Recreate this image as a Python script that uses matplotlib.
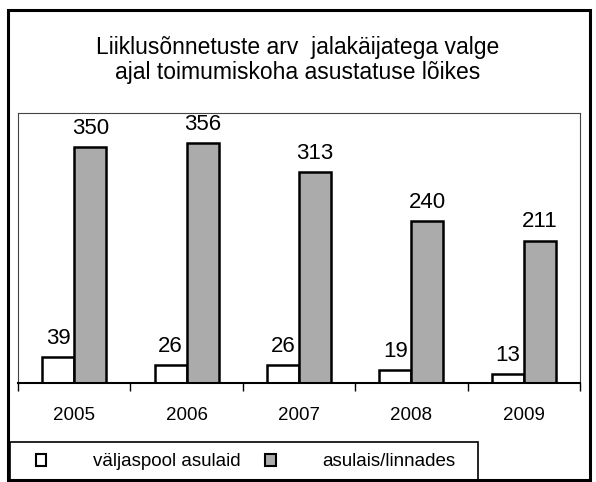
import matplotlib
matplotlib.use('Agg')
import matplotlib.pyplot as plt
from matplotlib.patches import Rectangle, Patch
import numpy as np

# data
years = ['2005', '2006', '2007', '2008', '2009']
outside = [39, 26, 26, 19, 13]      # väljaspool asulaid
inside = [350, 356, 313, 240, 211]  # asulais/linnades
series_names = ['väljaspool asulaid', 'asulais/linnades']
title = 'Liiklusõnnetuste arv  jalakäijatega valge\najal toimumiskoha asustatuse lõikes'

plt.rcParams['font.family'] = ['Liberation Sans', 'DejaVu Sans']

W, H = 596, 482
fig = plt.figure(figsize=(W / 100, H / 100), dpi=100)

def fx(px):
    return px / W

def fy(py):
    return 1 - py / H

# outer frame
fig.patches.append(Rectangle((fx(8), fy(480)), fx(582), 470 / H, transform=fig.transFigure,
                             fill=False, lw=2.2, ec='black'))
# legend frame
fig.patches.append(Rectangle((fx(10), fy(482)), fx(468), 40 / H, transform=fig.transFigure,
                             fill=False, lw=1.2, ec='black'))

fig.text(0.5, fy(60), title, ha='center', va='center', fontsize=16.5, linespacing=1.15)

ax = fig.add_axes([fx(18), fy(383), fx(562), (383 - 113) / H])
x = np.arange(len(years))
w = 0.285
ax.bar(x - w / 2, outside, w, color='white', edgecolor='black', lw=1.8)
ax.bar(x + w / 2, inside, w, color='#ababab', edgecolor='black', lw=1.8)

for xi, v in zip(x, outside):
    ax.text(xi - w / 2, v + 12, str(v), ha='center', va='bottom', fontsize=16)
for xi, v in zip(x, inside):
    ax.text(xi + w / 2, v + 12, str(v), ha='center', va='bottom', fontsize=16)

ax.set_xlim(-0.5, 4.5)
ax.set_ylim(0, 400)
ax.set_yticks([])
ax.set_xticks(np.arange(-0.5, 5, 1))
ax.set_xticklabels([])
ax.set_xticks(x, minor=True)
ax.set_xticklabels(years, minor=True, fontsize=13.5)
ax.tick_params(axis='x', which='major', length=6, width=1, direction='out')
ax.tick_params(axis='x', which='minor', length=0, pad=17)
for s in ['top', 'left', 'right']:
    ax.spines[s].set_linewidth(0.8)
    ax.spines[s].set_color('#444444')
ax.spines['bottom'].set_linewidth(1.5)

handles = [Patch(fc='white', ec='black', lw=1.5), Patch(fc='#ababab', ec='black', lw=1.5)]
leg = fig.legend(handles, series_names, ncol=2, loc='center left',
                 bbox_to_anchor=(fx(36), fy(462)), fontsize=13.5, frameon=False,
                 handlelength=0.55, handleheight=0.55,
                 handletextpad=2.5, columnspacing=1.3, borderpad=0, borderaxespad=0)

fig.savefig('out.png', dpi=100)
